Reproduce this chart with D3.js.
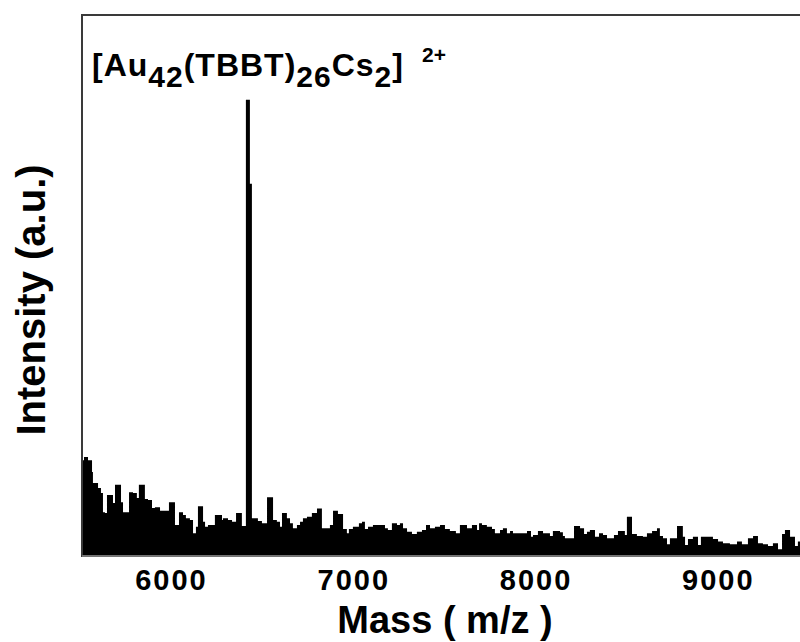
<!DOCTYPE html>
<html>
<head>
<meta charset="utf-8">
<script src="https://cdn.jsdelivr.net/npm/d3@7"></script>
<style>
    body { margin: 0; background: #fff; }
    text { font-family: "Liberation Sans", Arial, sans-serif; font-weight: bold; fill: #000; }
</style>
</head>
<body>
<script>
//spectrum masses (m/z) where each step starts
var mass = [5512, 5523, 5545, 5567, 5572, 5600, 5616, 5627, 5638, 5649, 5682, 5693, 5726, 5737, 5770, 5792,
    5813, 5824, 5857, 5874, 5896, 5912, 5940, 5989, 6022, 6044, 6066, 6082, 6104, 6121, 6137, 6148,
    6176, 6187, 6203, 6241, 6280, 6285, 6313, 6335, 6357, 6389, 6411, 6433, 6444, 6477, 6499, 6527,
    6560, 6581, 6598, 6609, 6636, 6653, 6669, 6691, 6708, 6724, 6746, 6773, 6801, 6828, 6872, 6889,
    6916, 6944, 6965, 6976, 6998, 7031, 7048, 7064, 7081, 7108, 7174, 7190, 7212, 7240, 7256, 7273,
    7295, 7322, 7349, 7377, 7399, 7421, 7448, 7476, 7503, 7530, 7563, 7585, 7624, 7651, 7679, 7690,
    7706, 7733, 7761, 7777, 7805, 7821, 7843, 7860, 7876, 7953, 7975, 7986, 8013, 8041, 8079, 8095,
    8134, 8150, 8161, 8211, 8244, 8266, 8282, 8298, 8326, 8348, 8370, 8392, 8430, 8452, 8490, 8501,
    8529, 8556, 8589, 8611, 8639, 8666, 8682, 8699, 8721, 8737, 8776, 8808, 8820, 8836, 8863, 8891,
    8907, 8973, 9001, 9028, 9066, 9105, 9132, 9165, 9193, 9220, 9247, 9275, 9302, 9330, 9352, 9368,
    9396, 9423, 9439, 9500];
//intensity (a.u.), peak = 100
var intensity = [21, 21.7, 21, 18.4, 16, 14.9, 13.8, 9.6, 9.4, 13.4, 11.6, 15.6, 11.8, 9.6, 14, 13.8,
    12.7, 15.6, 12.5, 12.3, 10.5, 10.7, 9.9, 11.8, 6.8, 9.6, 9, 8.3, 7.9, 5, 6.4, 10.9,
    7.5, 6.4, 6.8, 9, 7.9, 8.3, 7.9, 7.5, 9.4, 6.6, 100, 81.6, 8.3, 7.7, 7.2, 12.9,
    7.9, 7.5, 6.4, 9.4, 8.3, 7.2, 6.1, 6.8, 7.5, 8.3, 8.6, 9.4, 10.4, 6.1, 6.8, 9.9,
    9.2, 5.9, 5, 5.9, 6.4, 7.2, 7.5, 5.9, 6.4, 6.8, 6.1, 5.7, 7.2, 6.8, 7.2, 6.1,
    5.3, 4.8, 5.3, 5.7, 6.8, 6.1, 6.4, 6.8, 5.9, 5.5, 5, 6.8, 6.1, 6.8, 5.7, 7.2,
    6.8, 6.4, 5.9, 5, 5.7, 6.1, 5, 5.5, 5, 5.5, 4.2, 4.6, 5.5, 5, 4.4, 5.5,
    5.2, 4.4, 3.9, 6.6, 6.1, 4.8, 5.3, 5.7, 4.2, 5, 4.6, 3.9, 4.6, 5.5, 4.6, 8.6,
    4.8, 4.4, 4.2, 5, 5.5, 6.1, 4.4, 3.9, 2.6, 3.9, 6.6, 4.2, 2.4, 3.7, 4.2, 2.4,
    4.2, 3.7, 3.2, 2.8, 2.6, 3.2, 2.6, 3.9, 4.4, 2.8, 2.6, 2.2, 2.8, 1.5, 4.8, 5.7,
    4.2, 2.2, 3.2, 3.2];
//x tick values
var xTicks = [6000, 7000, 8000, 9000];

var w = 800, h = 642;
//plot box edges (don't use "top" - it clashes with window.top)
var plotLeft = 82, plotTop = 15, plotBottom = 556;

var svg = d3.select("body")
    .append("svg")
    .attr("width", w)
    .attr("height", h);

//x scale runs past the right edge of the window like the original
var x = d3.scaleLinear()
    .domain([5512, 9600])
    .range([plotLeft, plotLeft + (9600 - 5512) * 0.1823]);

var y = d3.scaleLinear()
    .domain([0, 118.6])
    .range([plotBottom, plotTop]);

var points = mass.map(function(m, i){
    return { m: m, v: intensity[i] };
});

//stepped filled spectrum
var area = d3.area()
    .curve(d3.curveStepAfter)
    .x(function(d){ return x(d.m); })
    .y0(y(0))
    .y1(function(d){ return y(d.v); });

svg.append("path")
    .datum(points)
    .attr("d", area)
    .style("fill", "#000");

//plot frame
svg.append("rect")
    .attr("x", plotLeft)
    .attr("y", plotTop)
    .attr("width", x.range()[1] - plotLeft)
    .attr("height", plotBottom - plotTop)
    .style("fill", "none")
    .style("stroke", "#3a3a3a")
    .style("stroke-width", 2);

svg.append("line")
    .attr("x1", plotLeft).attr("x2", w)
    .attr("y1", plotBottom).attr("y2", plotBottom)
    .style("stroke", "#888")
    .style("stroke-width", 1.5);

//bottom axis, labels only
var xAxis = d3.axisBottom(x)
    .tickValues(xTicks)
    .tickSize(0)
    .tickPadding(0)
    .tickFormat(d3.format("d"));

var axis = svg.append("g")
    .attr("transform", "translate(0," + plotBottom + ")")
    .call(xAxis);
axis.select(".domain").remove();
axis.selectAll("text")
    .attr("dy", null)
    .attr("y", 34)
    .style("font-size", "29px")
    .style("letter-spacing", "2px")
    .style("font-family", "'Liberation Sans', Arial, sans-serif")
    .style("font-weight", "bold");

//axis titles
svg.append("text")
    .attr("x", 445)
    .attr("y", 633)
    .attr("text-anchor", "middle")
    .style("font-size", "38px")
    .text("Mass ( m/z )");

svg.append("text")
    .attr("transform", "translate(45,300) rotate(-90)")
    .attr("text-anchor", "middle")
    .style("font-size", "40px")
    .text("Intensity (a.u.)");

//peak label
var label = svg.append("text")
    .attr("x", 92)
    .attr("y", 76)
    .style("font-size", "32px")
    .style("letter-spacing", "1px");

var parts = [
    { t: "[Au", sub: false },
    { t: "42", sub: true },
    { t: "(TBBT)", sub: false },
    { t: "26", sub: true },
    { t: "Cs", sub: false },
    { t: "2", sub: true },
    { t: "]", sub: false }
];
var prevSub = false;
parts.forEach(function(p){
    var dy = 0;
    if (p.sub && !prevSub) dy = 11;
    if (!p.sub && prevSub) dy = -11;
    label.append("tspan")
        .attr("dy", dy)
        .style("font-size", p.sub ? "30px" : "32px")
        .text(p.t);
    prevSub = p.sub;
});

svg.append("text")
    .attr("x", 422)
    .attr("y", 62)
    .style("font-size", "21px")
    .text("2+");
</script>
</body>
</html>
